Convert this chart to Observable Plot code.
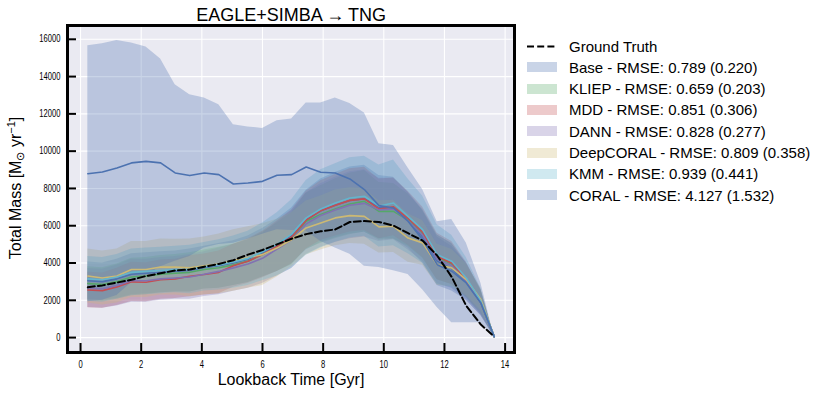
<!DOCTYPE html>
<html><head><meta charset="utf-8">
<script src="https://cdn.jsdelivr.net/npm/d3@7"></script>
<script src="https://cdn.jsdelivr.net/npm/@observablehq/plot@0.6"></script>
<style>
body{margin:0;background:#fff;}
#wrap{position:relative;width:823px;height:395px;font-family:"Liberation Sans",Arial,sans-serif;color:#000;}
#wrap svg{position:absolute;left:0;top:0;}
.lg{position:absolute;left:527px;height:21px;line-height:21px;font-size:15px;white-space:nowrap;}
.lg .sw{position:absolute;left:0;top:5.5px;width:30px;height:10px;}
.lg .tx{position:absolute;left:42px;top:0;}
#ylab{position:absolute;left:16px;top:188px;transform:translate(-50%,-50%) rotate(-90deg);font-size:16px;white-space:nowrap;}
#ylab sub,#ylab sup{font-size:11px;}
#ylab sub{vertical-align:-3px;} #ylab sup{vertical-align:6px;}
</style></head><body><div id="wrap"></div>
<script>
// ---------- data ----------
const lookback = [0.24,0.72,1.20,1.68,2.16,2.64,3.12,3.60,4.08,4.56,5.04,5.52,6.00,6.48,6.96,7.44,7.92,8.40,8.88,9.36,9.84,10.32,10.80,11.28,11.76,12.24,12.72,13.20,13.64];
const groundTruth = [2700,2800,2950,3100,3300,3450,3600,3650,3800,3950,4150,4450,4700,5000,5300,5550,5700,5800,6200,6250,6200,6000,5600,5200,4400,3250,1700,700,50];

const baseMean = [3050,3000,3150,3400,3450,3500,3550,3600,3750,3850,4000,4200,4550,4950,5450,6300,6800,7100,7350,7450,7000,6950,6300,5400,4100,3700,3000,1880,50];
const baseSd   = [1000,1000,1050,1100,1100,1100,1100,1150,1150,1200,1200,1250,1300,1400,1500,1600,1700,1750,1800,1800,1700,1650,1500,1400,1300,1200,1000,700,0];
const kliepMean = [2900,2850,3000,3250,3300,3400,3450,3500,3650,3750,3900,4100,4450,4850,5300,6240,6600,6900,7170,7310,6770,6770,6300,5550,4300,3950,3050,1900,50];
const kliepSd   = [900,900,950,1000,1000,1000,1000,1050,1050,1100,1100,1150,1200,1300,1400,1500,1550,1600,1650,1650,1550,1500,1400,1300,1200,1100,900,600,0];
const mddMean = [2550,2520,2720,2990,2970,3110,3150,3290,3380,3500,3850,4100,4450,4900,5400,6300,6810,7100,7360,7440,6900,7010,6400,5650,4350,4000,3100,1900,50];
const mddSd   = [950,950,1000,1050,1050,1050,1050,1100,1100,1150,1150,1200,1250,1350,1450,1550,1600,1650,1700,1700,1600,1550,1450,1350,1250,1150,950,650,0];
const dannMean = [2660,2620,2800,3050,3050,3150,3200,3250,3400,3550,3740,3950,4250,4750,5250,6100,6550,6850,7100,7200,6850,6900,6250,5500,4200,3850,3000,1880,50];
const dannSd   = [1050,1050,1100,1150,1150,1150,1150,1200,1200,1250,1250,1300,1350,1450,1550,1650,1700,1750,1800,1800,1700,1650,1550,1400,1300,1200,1000,700,0];
const deepcoralMean = [3300,3200,3300,3650,3650,3790,3780,3740,3850,3950,4130,4300,4450,4800,5250,5880,6150,6420,6540,6500,5940,5970,5340,5080,3910,3740,3110,2040,50];
const deepcoralSd   = [1450,1450,1450,1500,1500,1500,1500,1550,1550,1600,1650,1650,1650,1550,1450,1450,1450,1500,1500,1500,1400,1400,1300,1200,1100,1000,850,600,0];
const kmmMean = [3150,3100,3250,3500,3550,3600,3650,3650,3800,3900,4050,4250,4600,5000,5550,6420,6900,7220,7490,7580,7060,7220,6500,5790,4450,4090,3200,1950,50];
const kmmSd   = [1200,1200,1200,1250,1250,1250,1250,1300,1300,1350,1400,1450,1550,1700,1850,2000,2100,2100,2150,2150,2200,2300,2000,1800,1600,1400,1100,700,0];
const coralMean = [8790,8880,9100,9370,9450,9370,8830,8690,8830,8740,8240,8290,8380,8710,8740,9150,8870,8830,8510,7940,7080,6950,6240,5250,3910,3560,2930,1860,50];
const coralSd   = [6870,6880,6840,6430,6140,5570,4735,4340,4020,3750,3180,3010,2840,2925,2990,3430,3710,4020,4040,4110,3320,3360,2860,2690,2300,2770,2140,1070,0];

const methodNames = ["Base","KLIEP","MDD","DANN","DeepCORAL","KMM","CORAL"];
const rmse   = ["0.789","0.659","0.851","0.828","0.809","0.939","4.127"];
const rmseSd = ["0.220","0.203","0.306","0.277","0.358","0.441","1.532"];
const means = [baseMean,kliepMean,mddMean,dannMean,deepcoralMean,kmmMean,coralMean];
const sds   = [baseSd,kliepSd,mddSd,dannSd,deepcoralSd,kmmSd,coralSd];

const xTicks = [0,2,4,6,8,10,12,14];
const yTicks = [0,2000,4000,6000,8000,10000,12000,14000,16000];
const titleText = "EAGLE+SIMBA\u2009\u2192\u2009TNG";
const xLabel = "Lookback Time [Gyr]";

// ---------- style ----------
const colors = ["#4C72B0","#55A868","#C44E52","#8172B2","#CCB974","#64B5CD","#4C72B0"];

const methods = methodNames.map((name, i) => ({
  name, color: colors[i],
  label: `${name} - RMSE: ${rmse[i]} (${rmseSd[i]})`,
  rows: lookback.map((x, j) => ({x, m: means[i][j], lo: means[i][j] - sds[i][j], hi: means[i][j] + sds[i][j]}))
}));
const gtRows = lookback.map((x, j) => ({x, y: groundTruth[j]}));

const W = 823, H = 395, ML = 67, MR = 309, MT = 25, MB = 43;
const FW = W - ML - MR, FH = H - MT - MB;

const marks = [
  Plot.frame({fill: "#EAEAF2"}),
  Plot.gridX(xTicks, {stroke: "white", strokeOpacity: 1, strokeWidth: 1.1}),
  Plot.gridY(yTicks, {stroke: "white", strokeOpacity: 1, strokeWidth: 1.1})
];
for (const m of methods) {
  marks.push(Plot.areaY(m.rows, {x: "x", y1: "lo", y2: "hi", fill: m.color, fillOpacity: 0.3}));
}
for (const m of methods) {
  marks.push(Plot.lineY(m.rows, {x: "x", y: "m", stroke: m.color, strokeWidth: 1.6}));
}
marks.push(Plot.lineY(gtRows, {x: "x", y: "y", stroke: "black", strokeWidth: 2, strokeDasharray: "7,3.2"}));
marks.push(
  Plot.tickY(yTicks, {y: d => d, insetRight: FW - 9, stroke: "black", strokeWidth: 2}),
  Plot.tickX(xTicks, {x: d => d, insetTop: FH - 9, stroke: "black", strokeWidth: 2}),
  Plot.axisX(xTicks, {tickSize: 0, tickPadding: 8, label: null, fontSize: 10}),
  Plot.axisY(yTicks, {tickSize: 0, tickPadding: 7, label: null, fontSize: 10, tickFormat: d => String(d)}),
  Plot.frame({stroke: "black", strokeWidth: 3}),
  Plot.text([titleText], {frameAnchor: "top", lineAnchor: "middle", dy: -10, fontSize: 18, fontFamily: "Liberation Sans, Arial, sans-serif", fill: "black"}),
  Plot.text([xLabel], {frameAnchor: "bottom", lineAnchor: "middle", dy: 27, fontSize: 16, fontFamily: "Liberation Sans, Arial, sans-serif", fill: "black"})
);

const chart = Plot.plot({
  width: W, height: H,
  marginLeft: ML, marginRight: MR, marginTop: MT, marginBottom: MB,
  x: {domain: [-0.43, 14.31]},
  y: {domain: [-800, 16740]},
  style: {background: "transparent", fontFamily: '"Liberation Sans", Arial, sans-serif', color: "black", overflow: "visible"},
  marks
});

// narrow the tick labels horizontally (reference uses condensed digits)
d3.select(chart).selectAll('g[aria-label="x-axis tick label"] text, g[aria-label="y-axis tick label"] text').each(function() {
  const t = d3.select(this);
  const tr = t.attr("transform");
  if (tr) {
    t.attr("transform", tr + " scale(0.76,1)");
  } else {
    const x = +t.attr("x") || 0, y = +t.attr("y") || 0;
    t.attr("x", null).attr("y", null).attr("transform", `translate(${x},${y}) scale(0.76,1)`);
  }
});

const wrap = document.getElementById("wrap");
wrap.appendChild(chart);

// y label (HTML for sub/superscripts)
const yl = document.createElement("div");
yl.id = "ylab";
yl.innerHTML = "Total Mass [M<sub>\u2299</sub> yr<sup>\u22121</sup>]";
wrap.appendChild(yl);

// legend
const legendItems = [{label: "Ground Truth", dashed: true}].concat(methods.map(m => ({label: m.label, color: m.color})));
legendItems.forEach((it, i) => {
  const row = document.createElement("div");
  row.className = "lg";
  row.style.top = (46 + 21.3 * i - 10.5) + "px";
  row.style.width = "290px";
  if (it.dashed) {
    row.innerHTML = `<svg width="32" height="21" style="position:absolute;left:0;top:0"><line x1="0" y1="10.5" x2="30" y2="10.5" stroke="black" stroke-width="2" stroke-dasharray="7,3.2"/></svg><span class="tx"></span>`;
  } else {
    row.innerHTML = `<span class="sw"></span><span class="tx"></span>`;
    const sw = row.querySelector(".sw");
    sw.style.background = it.color;
    sw.style.opacity = 0.3;
  }
  row.querySelector(".tx").textContent = it.label;
  wrap.appendChild(row);
});
</script></body></html>
